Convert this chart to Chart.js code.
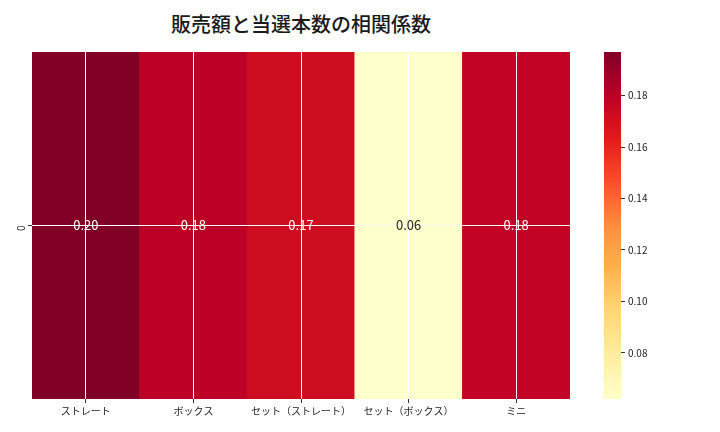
<!DOCTYPE html>
<html>
<head>
<meta charset="utf-8">
<script src="https://cdn.jsdelivr.net/npm/chart.js@4.4.0/dist/chart.umd.min.js"></script>
<style>
  body { margin:0; background:#fff; width:720px; height:432px; position:relative; overflow:hidden; font-family:"Noto Sans CJK JP", sans-serif; }
  #title { position:absolute; left:0; width:602px; top:9px; text-align:center; font-size:20px; font-weight:500; color:#1a1a1a; }
  #main { position:absolute; left:0; top:0; width:590px; height:432px; }
  #bar { position:absolute; left:600px; top:0; width:120px; height:432px; }
</style>
</head>
<body>
<div id="title">販売額と当選本数の相関係数</div>
<div id="main"><canvas id="heat"></canvas></div>
<div id="bar"><canvas id="cbar"></canvas></div>
<script>
// data
var categories = ["ストレート", "ボックス", "セット（ストレート）", "セット（ボックス）", "ミニ"];
var rowLabels = ["0"];
var corrValues = [0.197, 0.180, 0.172, 0.062, 0.178];
var cbarTicks = [0.08, 0.10, 0.12, 0.14, 0.16, 0.18];

// YlOrRd
var cmap = ["#ffffcc", "#ffeda0", "#fed976", "#feb24c", "#fd8d3c", "#fc4e2a", "#e31a1c", "#bd0026", "#800026"];

var vmin = Math.min.apply(null, corrValues);
var vmax = Math.max.apply(null, corrValues);

function hexRgb(h) {
  return [parseInt(h.substr(1,2),16), parseInt(h.substr(3,2),16), parseInt(h.substr(5,2),16)];
}
function colorAt(v) {
  var t = (v - vmin) / (vmax - vmin);
  t = Math.max(0, Math.min(1, t));
  var p = t * (cmap.length - 1);
  var i = Math.min(Math.floor(p), cmap.length - 2);
  var f = p - i;
  var a = hexRgb(cmap[i]), b = hexRgb(cmap[i+1]);
  var c = [0,1,2].map(function(k){ return Math.round(a[k] + (b[k]-a[k])*f); });
  return c;
}
function cssColor(c) { return "rgb(" + c[0] + "," + c[1] + "," + c[2] + ")"; }

var font = "'Noto Sans CJK JP', sans-serif";

// annotations inside cells
var annotPlugin = {
  id: "annot",
  afterDraw: function(chart) {
    var ctx = chart.ctx;
    var xs = chart.scales.x, ys = chart.scales.y;
    ctx.save();
    ctx.font = "13px " + font;
    ctx.textAlign = "center";
    ctx.textBaseline = "middle";
    corrValues.forEach(function(v, i) {
      var c = colorAt(v);
      var lum = (0.2126*c[0] + 0.7152*c[1] + 0.0722*c[2]) / 255;
      ctx.fillStyle = lum < 0.408 ? "#ffffff" : "#262626";
      ctx.fillText(v.toFixed(2), xs.getPixelForValue(i), ys.getPixelForValue(0.5));
    });
    ctx.restore();
  }
};

new Chart(document.getElementById("heat"), {
  type: "bar",
  data: {
    labels: categories,
    datasets: [{
      data: corrValues.map(function(){ return [0, 1]; }),
      backgroundColor: corrValues.map(function(v){ return cssColor(colorAt(v)); }),
      borderWidth: 0,
      barPercentage: 1,
      categoryPercentage: 1
    }]
  },
  options: {
    responsive: true,
    maintainAspectRatio: false,
    animation: false,
    devicePixelRatio: 1,
    layout: { padding: { top: 52, right: 20, bottom: 0, left: 0 } },
    plugins: { legend: { display: false }, tooltip: { enabled: false } },
    scales: {
      x: {
        offset: true,
        border: { display: false },
        grid: { z: 1, offset: false, color: "#ffffff", lineWidth: 1, tickColor: "#333", tickLength: 4 },
        ticks: { font: { family: font, size: 10 }, color: "#222", padding: 2, maxRotation: 0, autoSkip: false },
        afterFit: function(s) { s.height = 33; }
      },
      y: {
        min: 0, max: 1,
        border: { display: false },
        grid: { z: 1, color: "#ffffff", lineWidth: 1, tickColor: "#333", tickLength: 4 },
        afterBuildTicks: function(s) { s.ticks = [{ value: 0.5 }]; },
        ticks: {
          font: { family: font, size: 10 }, color: "#222", padding: 7,
          minRotation: 90, maxRotation: 90,
          callback: function() { return rowLabels[0]; }
        },
        afterFit: function(s) { s.width = 32; }
      }
    }
  },
  plugins: [annotPlugin]
});

// colour bar
new Chart(document.getElementById("cbar"), {
  type: "bar",
  data: {
    labels: ["cb"],
    datasets: [{
      data: [[vmin, vmax]],
      borderWidth: 0,
      barPercentage: 1,
      categoryPercentage: 1,
      backgroundColor: function(c) {
        var area = c.chart.chartArea;
        if (!area) return cmap[0];
        var g = c.chart.ctx.createLinearGradient(0, area.bottom, 0, area.top);
        cmap.forEach(function(col, i) { g.addColorStop(i / (cmap.length - 1), col); });
        return g;
      }
    }]
  },
  options: {
    responsive: true,
    maintainAspectRatio: false,
    animation: false,
    devicePixelRatio: 1,
    layout: { padding: { top: 52, right: 0, bottom: 33, left: 4 } },
    plugins: { legend: { display: false }, tooltip: { enabled: false } },
    scales: {
      x: { display: false },
      y: {
        position: "right",
        min: vmin, max: vmax,
        border: { display: false },
        grid: { drawOnChartArea: false, tickColor: "#333", tickLength: 4 },
        afterBuildTicks: function(s) { s.ticks = cbarTicks.map(function(v){ return { value: v }; }); },
        ticks: {
          font: { family: font, size: 10 }, color: "#222", padding: 3,
          callback: function(v) { return Number(v).toFixed(2); }
        },
        afterFit: function(s) { s.width = 99; }
      }
    }
  }
});
</script>
</body>
</html>
